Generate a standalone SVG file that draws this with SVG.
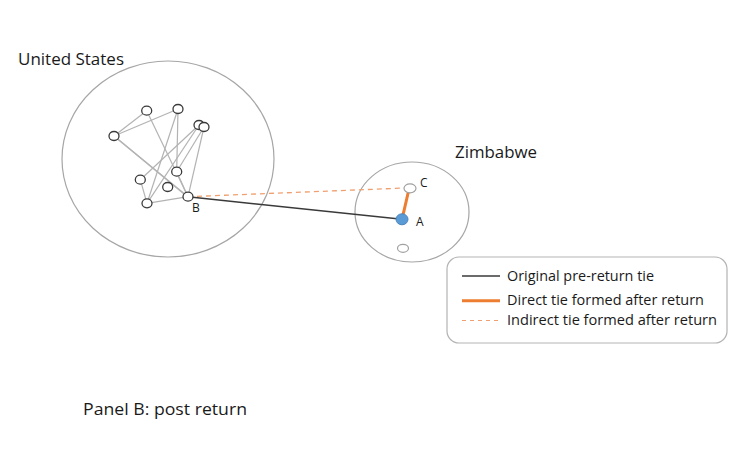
<svg xmlns="http://www.w3.org/2000/svg" width="755" height="475" viewBox="0 0 755 475">
<style>
.region{fill:none;stroke:#a6a6a6;stroke-width:1.2}
.us{stroke:#b3b3b3;stroke-width:1.2;fill:none}
.node{fill:#fff;stroke:#3a3a3a;stroke-width:1.3}
.lbl{font-family:"Open Sans","Liberation Sans",sans-serif;fill:#1a1a1a}
.small{font-family:"Open Sans","Liberation Sans",sans-serif;font-size:12px;fill:#1a1a1a}
</style>
<rect width="755" height="475" fill="#fff"/>
<g id="us-region">
<ellipse class="region" cx="168" cy="159" rx="106" ry="98"/>
<text class="lbl" x="18" y="65" font-size="16.5" textLength="106" lengthAdjust="spacingAndGlyphs">United States</text>
</g>
<g id="zw-region">
<ellipse class="region" cx="412" cy="212" rx="57" ry="50"/>
<text class="lbl" x="455" y="158" font-size="16.5" textLength="82" lengthAdjust="spacingAndGlyphs">Zimbabwe</text>
</g>
<g id="connectors">
<line class="us" x1="114" y1="136" x2="146.7" y2="110.7"/>
<line class="us" x1="114" y1="136" x2="178" y2="109"/>
<line class="us" x1="114" y1="136" x2="188" y2="196.7"/>
<line class="us" x1="114" y1="136" x2="184" y2="194"/>
<line class="us" x1="146.7" y1="110.7" x2="188" y2="196.7"/>
<line class="us" x1="178" y1="109" x2="176.7" y2="171.7"/>
<line class="us" x1="178" y1="109" x2="147" y2="203.3"/>
<line class="us" x1="199" y1="125" x2="140.3" y2="179.7"/>
<line class="us" x1="199" y1="125" x2="147" y2="203.3"/>
<line class="us" x1="204" y1="127" x2="176.7" y2="171.7"/>
<line class="us" x1="204" y1="127" x2="188" y2="196.7"/>
<line class="us" x1="140.3" y1="179.7" x2="147" y2="203.3"/>
<line class="us" x1="147" y1="203.3" x2="188" y2="196.7"/>
<line class="us" x1="176.7" y1="171.7" x2="188" y2="196.7"/>
<line x1="188" y1="196.7" x2="405" y2="188" stroke="#f0a070" stroke-width="1.3" stroke-dasharray="5,4"/>
<line x1="188" y1="196.7" x2="402" y2="219.3" stroke="#3a3a3a" stroke-width="1.5"/>
<line x1="402" y1="219.3" x2="409" y2="189" stroke="#ED7D31" stroke-width="3"/>
</g>
<g id="us-nodes">
<ellipse class="node" cx="146.7" cy="110.7" rx="5" ry="4.5"/>
<ellipse class="node" cx="178" cy="109" rx="5" ry="4.5"/>
<ellipse class="node" cx="114" cy="136" rx="5" ry="4.5"/>
<ellipse class="node" cx="199" cy="125" rx="5" ry="4.5"/>
<ellipse class="node" cx="204" cy="127" rx="5" ry="4.5"/>
<ellipse class="node" cx="176.7" cy="171.7" rx="5" ry="4.5"/>
<ellipse class="node" cx="140.3" cy="179.7" rx="5" ry="4.5"/>
<ellipse class="node" cx="167.7" cy="187" rx="5" ry="4.5"/>
<ellipse class="node" cx="147" cy="203.3" rx="5" ry="4.5"/>
</g>
<g id="node-B">
<ellipse class="node" cx="188" cy="196.7" rx="5" ry="4.5"/>
<text class="small" x="192" y="212">B</text>
</g>
<g id="node-C">
<ellipse cx="410" cy="188.3" rx="6" ry="4.5" fill="#fff" stroke="#a0a0a0" stroke-width="1.2"/>
<text class="small" x="420" y="187">C</text>
</g>
<g id="node-A">
<ellipse cx="402" cy="219.3" rx="6" ry="5.5" fill="#5B9BD5" stroke="#4a86c0" stroke-width="1"/>
<text class="small" x="416" y="226">A</text>
</g>
<g id="node-z3">
<ellipse cx="403" cy="248.3" rx="5.5" ry="4" fill="#fff" stroke="#a0a0a0" stroke-width="1.2"/>
</g>
<g id="legend">
<rect x="447" y="257" width="280" height="86" rx="12" ry="12" fill="#fff" stroke="#b3b3b3" stroke-width="1.2"/>
<line x1="462" y1="276" x2="500" y2="276" stroke="#3a3a3a" stroke-width="1.3"/>
<line x1="462" y1="300.7" x2="500" y2="300.7" stroke="#ED7D31" stroke-width="3"/>
<line x1="462" y1="320.5" x2="500" y2="320.5" stroke="#f0a070" stroke-width="1.2" stroke-dasharray="4,4"/>
<text class="lbl" x="507" y="281" font-size="14" textLength="147" lengthAdjust="spacingAndGlyphs">Original pre-return tie</text>
<text class="lbl" x="507" y="305" font-size="14" textLength="197" lengthAdjust="spacingAndGlyphs">Direct tie formed after return</text>
<text class="lbl" x="507" y="325" font-size="14" textLength="210" lengthAdjust="spacingAndGlyphs">Indirect tie formed after return</text>
</g>
<text class="lbl" x="83" y="415" font-size="17" textLength="164" lengthAdjust="spacingAndGlyphs">Panel B: post return</text>
</svg>
